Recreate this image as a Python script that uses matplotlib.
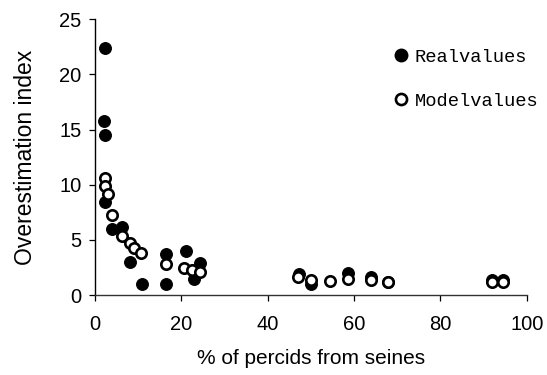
import matplotlib
matplotlib.use("Agg")
import matplotlib.pyplot as plt
from matplotlib.lines import Line2D

# Real overestimation index values
real_x = [2.3, 2.1, 2.3, 2.3, 3.9, 6.3, 8.1, 10.9, 16.5, 16.5, 21.0, 22.8, 24.2,
          47.2, 49.9, 58.5, 64.0, 67.9, 92.0, 94.4]
real_y = [22.4, 15.8, 14.5, 8.4, 6.0, 6.2, 3.0, 1.05, 3.7, 1.05, 4.0, 1.5, 2.9,
          1.9, 1.05, 2.0, 1.6, 1.2, 1.4, 1.4]

# Model overestimation index values
model_x = [2.3, 2.3, 3.0, 3.9, 6.3, 8.1, 9.0, 10.7, 16.5, 20.6, 22.4, 24.2,
           47.0, 50.0, 54.4, 58.5, 64.0, 67.9, 92.0, 94.4]
model_y = [10.6, 9.9, 9.2, 7.3, 5.4, 4.7, 4.3, 3.8, 2.8, 2.5, 2.3, 2.1,
           1.65, 1.4, 1.3, 1.5, 1.4, 1.15, 1.2, 1.2]

x_ticks = [0, 20, 40, 60, 80, 100]
y_ticks = [0, 5, 10, 15, 20, 25]

plt.rcParams["font.family"] = ["Liberation Sans", "DejaVu Sans"]

fig = plt.figure(figsize=(5.47, 3.75), dpi=100)
ax = fig.add_axes([0.174, 0.213, 0.789, 0.736])

ax.scatter(real_x, real_y, s=72, c="black", edgecolors="black", linewidths=0.8,
           zorder=2, clip_on=False)
ax.scatter(model_x, model_y, s=56, c="white", edgecolors="black", linewidths=1.9,
           zorder=3, clip_on=False)

ax.set_xlim(0, 100)
ax.set_ylim(0, 25)
ax.set_xticks(x_ticks)
ax.set_yticks(y_ticks)
ax.tick_params(axis="both", direction="out", length=4, width=0.9, labelsize=14.5,
               colors="black")
ax.tick_params(axis="y", pad=6)
ax.tick_params(axis="x", pad=10)

for side in ("top", "right"):
    ax.spines[side].set_visible(False)
ax.spines["left"].set_linewidth(1.0)
ax.spines["bottom"].set_linewidth(1.0)
ax.spines["bottom"].set_color("#333333")

ax.set_xlabel("% of percids from seines", fontsize=15, labelpad=11)
ax.set_ylabel("Overestimation index", fontsize=16.5, labelpad=16)

handles = [
    Line2D([], [], linestyle="none", marker="o", markersize=9,
           markerfacecolor="black", markeredgecolor="black"),
    Line2D([], [], linestyle="none", marker="o", markersize=8,
           markerfacecolor="white", markeredgecolor="black", markeredgewidth=1.9),
]
leg = ax.legend(handles, ["Realvalues", "Modelvalues"], loc="upper right",
                bbox_to_anchor=(1.066, 0.955), frameon=False, handlelength=0.6,
                handletextpad=0.45, labelspacing=1.45,
                prop={"family": "Liberation Mono", "size": 13.5})

fig.savefig("out.png", dpi=100)
